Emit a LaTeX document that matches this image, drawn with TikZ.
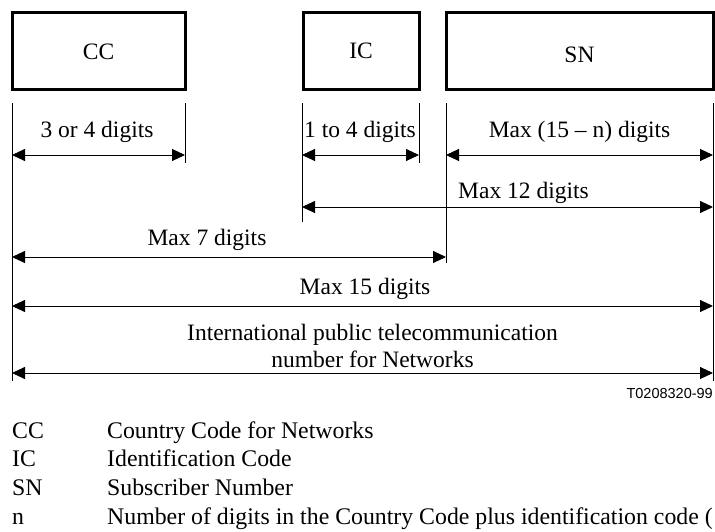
\documentclass[tikz,border=0pt]{standalone}
\usepackage{fontspec}
\setmainfont{Liberation Serif}
\newfontfamily\codefont{Liberation Sans}
\usetikzlibrary{arrows.meta}
\begin{document}
\begin{tikzpicture}[x=1pt,y=-1pt,
  field/.style={draw,line width=3pt,inner sep=0pt,outer sep=0pt},
  ext/.style={line width=0.9pt},
  dim/.style={line width=0.9pt,{Triangle[length=13pt,width=12pt]}-{Triangle[length=13pt,width=12pt]}},
  lbl/.style={font=\fontsize{23.5}{28}\selectfont,inner sep=0pt,anchor=base},
  legend/.style={font=\fontsize{23.8}{28}\selectfont,inner sep=0pt,anchor=base west},
  code/.style={font=\codefont\fontsize{14.5}{16}\selectfont,inner sep=0pt,anchor=base east}]
\useasboundingbox (0,0) rectangle (715,531);
% field boxes
\node[field,minimum width=173pt,minimum height=77.5pt] (cc) at (98.5,50.75) {};
\node[field,minimum width=116pt,minimum height=77.5pt] (ic) at (361,50.75) {};
\node[field,minimum width=267pt,minimum height=77.5pt] (sn) at (579.5,50.75) {};
\node[lbl] (cct) at (98.5,59) {CC};
\node[lbl] (ict) at (361,58) {IC};
\node[lbl] (snt) at (579.5,62) {SN};
% extension lines
\coordinate (e1t) at (12,103);  \coordinate (e1b) at (12,381);
\coordinate (e2t) at (185,103); \coordinate (e2b) at (185,163);
\coordinate (e3t) at (302,103); \coordinate (e3b) at (302,222);
\coordinate (e4t) at (419,103); \coordinate (e4b) at (419,163);
\coordinate (e5t) at (446,103); \coordinate (e5b) at (446,263);
\coordinate (e6t) at (713,103); \coordinate (e6b) at (713,381);
\foreach \i in {1,...,6} \draw[ext] (e\i t) -- (e\i b);
% dimension arrows
\coordinate (a1l) at (12,155);  \coordinate (a1r) at (185,155);
\coordinate (a2l) at (302,155); \coordinate (a2r) at (419,155);
\coordinate (a3l) at (446,155); \coordinate (a3r) at (713,155);
\coordinate (a4l) at (302,207); \coordinate (a4r) at (713,207);
\coordinate (a5l) at (12,257);  \coordinate (a5r) at (446,257);
\coordinate (a6l) at (12,306);  \coordinate (a6r) at (713,306);
\coordinate (a7l) at (12,373);  \coordinate (a7r) at (713,373);
\foreach \i in {1,...,7} \draw[dim] (a\i l) -- (a\i r);
% dimension labels
\node[lbl] (t1) at (97,137) {3 or 4 digits};
\node[lbl] (t2) at (360,137) {1 to 4 digits};
\node[lbl] (t3) at (579.5,137) {Max (15 -- n) digits};
\node[lbl] (t4) at (523.5,198) {Max 12 digits};
\node[lbl] (t5) at (207,245) {Max 7 digits};
\node[lbl] (t6) at (365,294) {Max 15 digits};
\node[lbl] (t7a) at (372.5,340) {International public telecommunication};
\node[lbl] (t7b) at (372.5,367) {number for Networks};
\node[code] (fig) at (713,398) {T0208320-99};
% legend
\node[legend] (k1) at (12,438) {CC};
\node[legend] (d1) at (107,438) {Country Code for Networks};
\node[legend] (k2) at (12,466.5) {IC};
\node[legend] (d2) at (107,466.5) {Identification Code};
\node[legend] (k3) at (12,495.5) {SN};
\node[legend] (d3) at (107,495.5) {Subscriber Number};
\node[legend] (k4) at (12,524.5) {n};
\node[legend] (d4) at (107,524.5) {Number of digits in the Country Code plus identification code (};
\end{tikzpicture}
\end{document}
